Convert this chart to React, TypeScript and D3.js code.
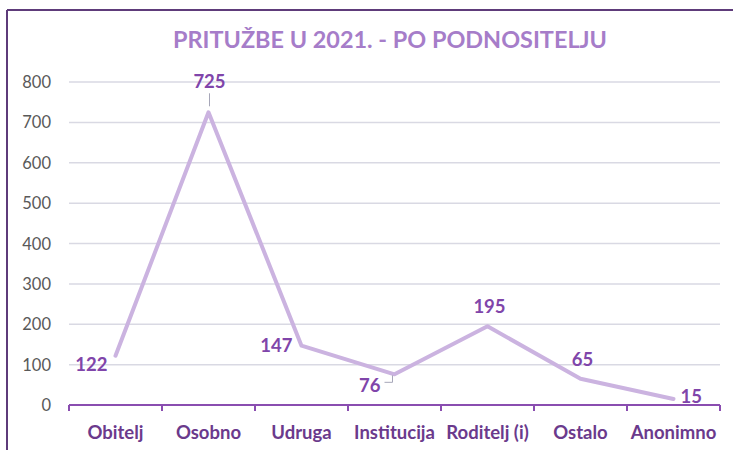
import React from "react";
import * as d3 from "d3";

const categories = ["Obitelj", "Osobno", "Udruga", "Institucija", "Roditelj (i)", "Ostalo", "Anonimno"];
const values = [122, 725, 147, 76, 195, 65, 15];
const yTicks = [0, 100, 200, 300, 400, 500, 600, 700, 800];
const labelPlacement = ["left", "above", "left", "belowLeft", "above", "above", "right"];
const title = "PRITUŽBE U 2021. - PO PODNOSITELJU";

const W = 733;
const H = 450;
const FONT = "Lato, 'Open Sans', sans-serif";

export default function App() {
  const x = d3.scaleBand().domain(categories).range([69, 720]).padding(0);
  const y = d3.scaleLinear().domain([0, 800]).range([405, 82]);
  const line = d3
    .line<number>()
    .x((_, i) => (x(categories[i]) as number) + x.bandwidth() / 2)
    .y((d) => y(d));
  const tickXs = categories.map((c) => x(c) as number).concat([720]);

  return (
    <svg
      width={W}
      height={H}
      style={{ position: "absolute", left: 0, top: 0, background: "#fff" }}
    >
      <rect x={0} y={0} width={W} height={H} fill="#fff" />
      {/* frame */}
      <line x1={7} y1={10} x2={W} y2={10} stroke="#5E3B7A" strokeWidth={2} />
      <line x1={7} y1={10} x2={7} y2={H} stroke="#5E3B7A" strokeWidth={2} />

      <text
        x={390}
        y={48}
        textAnchor="middle"
        fontFamily={FONT}
        fontWeight="bold"
        fontSize={22}
        fill="#A67DC9"
        textLength={434}
        lengthAdjust="spacingAndGlyphs"
      >
        {title}
      </text>

      {/* grid */}
      {yTicks.slice(1).map((t) => (
        <line key={t} x1={69} x2={720} y1={y(t)} y2={y(t)} stroke="#D9D9E3" strokeWidth={1.5} />
      ))}
      {yTicks.map((t) => (
        <text
          key={"l" + t}
          x={51}
          y={y(t) + 6}
          textAnchor="end"
          fontFamily={FONT}
          fontSize={16.5}
          fill="#595959"
        >
          {t}
        </text>
      ))}

      {/* x axis */}
      <line x1={69} x2={720} y1={y(0)} y2={y(0)} stroke="#8A4DB0" strokeWidth={2} />
      {tickXs.map((tx, i) => (
        <line key={"t" + i} x1={tx} x2={tx} y1={y(0)} y2={y(0) + 6} stroke="#8A4DB0" strokeWidth={2} />
      ))}
      {categories.map((c) => (
        <text
          key={c}
          x={(x(c) as number) + x.bandwidth() / 2}
          y={439}
          textAnchor="middle"
          fontFamily={FONT}
          fontWeight="bold"
          fontSize={18.5}
          fill="#6B3A8C"
        >
          {c}
        </text>
      ))}

      {/* line */}
      <path
        d={line(values) || ""}
        fill="none"
        stroke="#CBB3E0"
        strokeWidth={4}
        strokeLinejoin="round"
        strokeLinecap="round"
      />

      {/* labels */}
      {values.map((v, i) => {
        const px = (x(categories[i]) as number) + x.bandwidth() / 2;
        const py = y(v);
        const p = labelPlacement[i];
        let lx = px;
        let ly = py;
        let anchor: "start" | "middle" | "end" = "middle";
        const extras: React.ReactNode[] = [];
        if (p === "left") {
          lx = px - 8;
          ly = py + 15;
          anchor = "end";
          if (i === 2) {
            lx = px - 9;
            ly = py + 6;
          }
        } else if (p === "above") {
          lx = px + 2;
          ly = py - 13;
          if (i === 1) {
            lx = px + 1;
            ly = py - 24;
            extras.push(
              <line key="ld1" x1={px + 1} x2={px + 1} y1={py - 19} y2={py - 6} stroke="#A6A6B8" strokeWidth={1} />
            );
          }
        } else if (p === "right") {
          lx = px + 7;
          ly = py + 4;
          anchor = "start";
        } else if (p === "belowLeft") {
          lx = px - 14;
          ly = py + 18;
          anchor = "end";
          extras.push(
            <polyline
              key="ld2"
              points={`${px - 10},${py + 8} ${px - 2},${py + 8} ${px - 2},${py + 1}`}
              fill="none"
              stroke="#A6A6B8"
              strokeWidth={1}
            />
          );
        }
        return (
          <g key={"v" + i}>
            {extras}
            <text
              x={lx}
              y={ly}
              textAnchor={anchor}
              fontFamily={FONT}
              fontWeight="bold"
              fontSize={18.5}
              fill="#8045AA"
            >
              {v}
            </text>
          </g>
        );
      })}
    </svg>
  );
}
